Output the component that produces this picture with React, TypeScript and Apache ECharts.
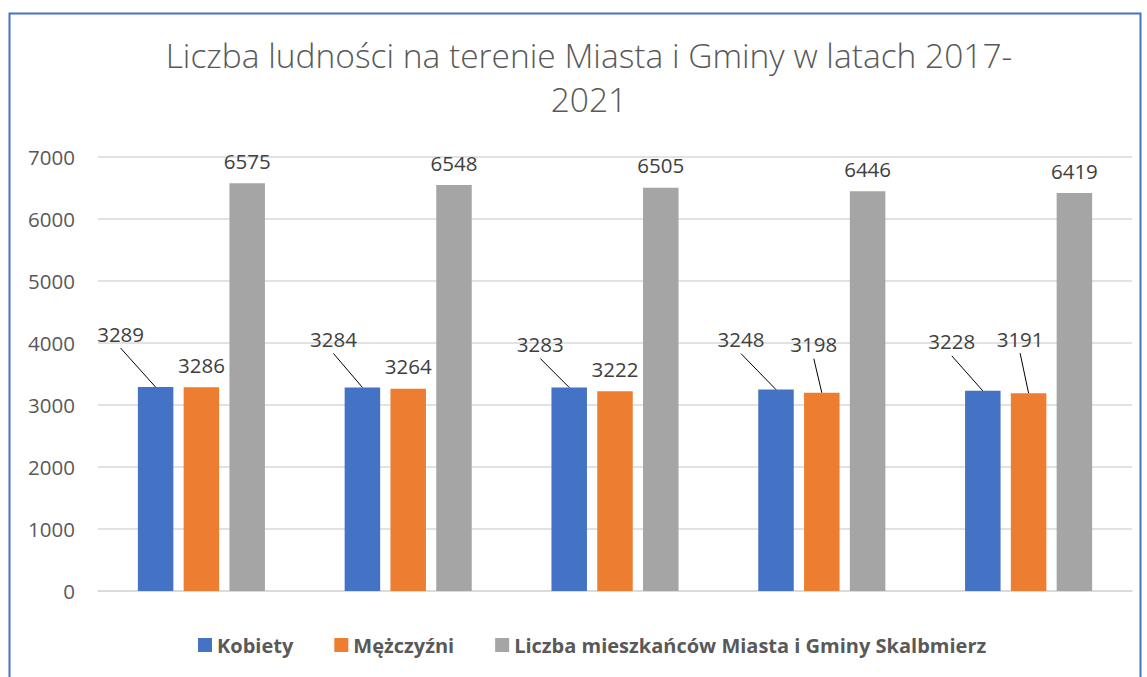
import React, { useEffect, useRef } from "react";
import * as echarts from "echarts";

const years = ["2017", "2018", "2019", "2020", "2021"];
const kobiety = [3289, 3284, 3283, 3248, 3228];
const mezczyzni = [3286, 3264, 3222, 3198, 3191];
const razem = [6575, 6548, 6505, 6446, 6419];
const seriesNames = ["Kobiety", "Mężczyźni", "Liczba mieszkańców Miasta i Gminy Skalbmierz"];
const yTicks = { min: 0, max: 7000, interval: 1000 };

// manual label displacements (as moved in the original), per series / category
const labelShift: Record<number, [number, number][]> = {
  0: [[-35, -31], [-29, -26], [-29, -21], [-35, -28], [-31, -27]],
  1: [[0, 0], [0, 0], [0, 0], [-8, -26], [-8.5, -32]],
};

const FONT = "'Open Sans', 'Liberation Sans', sans-serif";
const LABEL_DIST = 12;

export default function App() {
  const ref = useRef<HTMLDivElement>(null);
  useEffect(() => {
    if (!ref.current) return;
    const chart = echarts.init(ref.current, undefined, { renderer: "svg" });
    const colors = ["#4472C4", "#ED7D31", "#A5A5A5"];
    const lists = [kobiety, mezczyzni, razem];
    const border = {
      type: "rect",
      shape: { x: 9.5, y: 13.5, width: 1131, height: 700 },
      style: { fill: "none", stroke: "#4472C4", lineWidth: 2 },
      silent: true,
    };
    chart.setOption({
      animation: false,
      color: colors,
      textStyle: { fontFamily: FONT },
      title: {
        text: "Liczba ludności na terenie Miasta i Gminy w latach 2017-\n2021",
        left: 584,
        textAlign: "center",
        top: 28,
        textStyle: {
          fontFamily: FONT,
          fontSize: 33.5,
          fontWeight: 300,
          color: "#595959",
          lineHeight: 44,
        },
      },
      graphic: [border],
      legend: {
        bottom: 17,
        left: 193,
        itemWidth: 14,
        itemHeight: 14,
        itemGap: 41,
        icon: "rect",
        textStyle: { fontFamily: FONT, fontSize: 20, fontWeight: "bold", color: "#595959" },
        data: seriesNames,
      },
      grid: { left: 98, right: 15, top: 157, bottom: 86, containLabel: false },
      xAxis: {
        type: "category",
        data: years,
        axisLabel: { show: false },
        axisTick: { show: false },
        axisLine: { lineStyle: { color: "#d9d9d9", width: 1.5 } },
      },
      yAxis: {
        type: "value",
        min: yTicks.min,
        max: yTicks.max,
        interval: yTicks.interval,
        axisLabel: {
          fontFamily: FONT,
          fontSize: 20.5,
          color: "#595959",
          margin: 23,
          formatter: (v: number) => String(v),
        },
        axisLine: { show: false },
        axisTick: { show: false },
        splitLine: { lineStyle: { color: "#d9d9d9", width: 1.5 } },
      },
      series: lists.map((vals, si) => ({
        name: seriesNames[si],
        type: "bar",
        barWidth: 35.5,
        barGap: "29%",
        data: vals,
        label: {
          show: true,
          position: "top",
          distance: LABEL_DIST,
          fontFamily: FONT,
          fontSize: 20.5,
          color: "#404040",
        },
        labelLayout: (p: any) => {
          const s = labelShift[si]?.[p.dataIndex];
          if (!s) return {};
          return { dx: s[0], dy: s[1] };
        },
      })),
    });

    // leader lines for moved labels, from the bar layout computed by ECharts
    const lines: any[] = [];
    const model: any = (chart as any).getModel();
    Object.keys(labelShift).forEach((k) => {
      const si = Number(k);
      const data = model.getSeriesByIndex(si).getData();
      labelShift[si].forEach((s, i) => {
        if (s[0] === 0 && s[1] === 0) return;
        const lay = data.getItemLayout(i);
        if (!lay) return;
        const bx = lay.x + lay.width / 2;
        const top = Math.min(lay.y, lay.y + lay.height);
        lines.push({
          type: "line",
          silent: true,
          shape: { x1: bx + s[0], y1: top - 8 + s[1], x2: bx, y2: top },
          style: { stroke: "#000", lineWidth: 1 },
          z: 10,
        });
      });
    });
    chart.setOption({ graphic: [border, ...lines] });

    return () => chart.dispose();
  }, []);
  return (
    <div
      ref={ref}
      style={{ position: "absolute", left: 0, top: 0, width: 1147, height: 677, background: "#fff" }}
    />
  );
}
